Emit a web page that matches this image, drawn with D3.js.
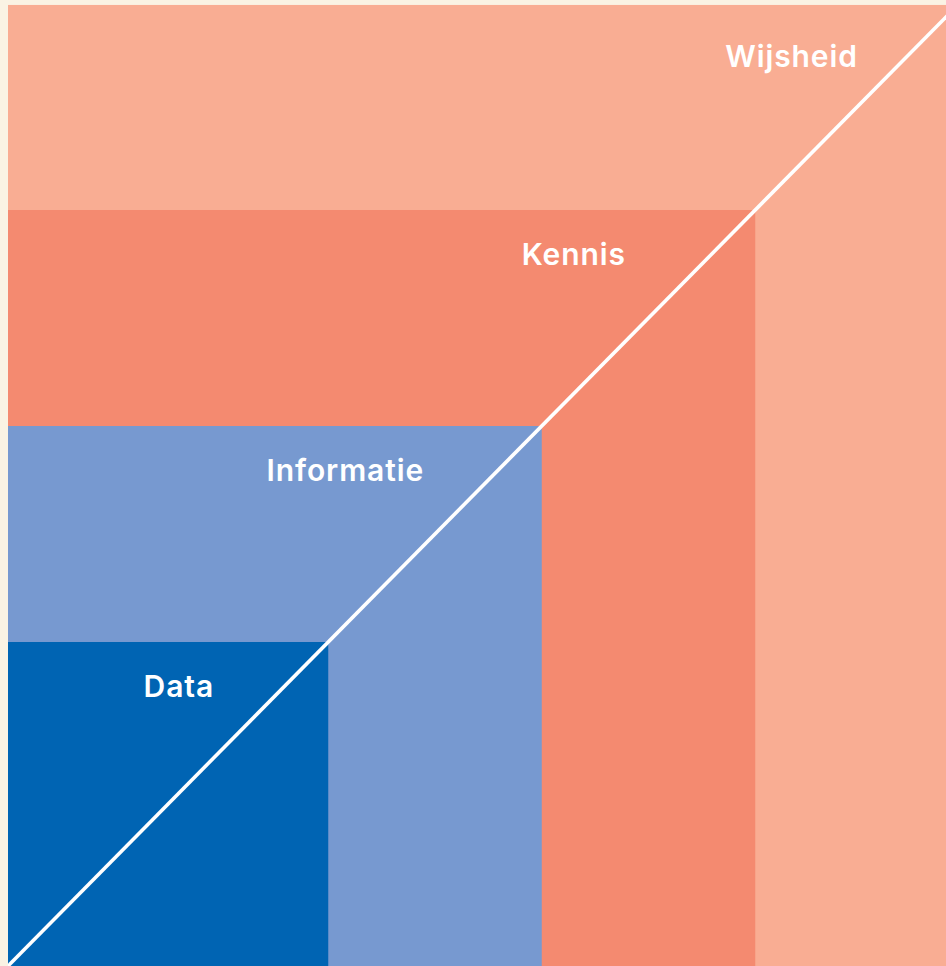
<!DOCTYPE html>
<html>
<head>
<meta charset="utf-8">
<script src="https://cdn.jsdelivr.net/npm/d3@7"></script>
<style>
  html, body { margin: 0; padding: 0; background: #FAF3E4; }
  svg { display: block; }
</style>
</head>
<body>
<svg id="chart" width="946" height="966"></svg>
<script>
// DIKW levels (nested squares, size in abstract units)
const levels = ["Data", "Informatie", "Kennis", "Wijsheid"];
const sizes = [1.5, 2.5, 3.5, 4.45];
const colors = ["#0064B3", "#7799D0", "#F48A70", "#F9AD93"];
// label centre (in size units) along x
const labelCenters = [0.8, 1.58, 2.65, 3.67];

const W = 946, H = 966;
const svg = d3.select("#chart");

const x = d3.scaleLinear().domain([0, 1]).range([8, 8 + 213.5]);
const y = d3.scaleLinear().domain([0, 1]).range([966, 966 - 216]);

svg.append("defs").append("clipPath").attr("id", "clip")
  .append("rect")
  .attr("x", x(0)).attr("y", y(sizes[3]))
  .attr("width", W - x(0)).attr("height", y(0) - y(sizes[3]));

const g = svg.append("g").attr("clip-path", "url(#clip)");

const order = d3.range(levels.length).reverse();
g.selectAll("rect.lvl")
  .data(order)
  .join("rect")
  .attr("class", "lvl")
  .attr("x", x(0))
  .attr("y", i => y(sizes[i]))
  .attr("width", i => x(sizes[i]) - x(0))
  .attr("height", i => y(0) - y(sizes[i]))
  .attr("fill", i => colors[i]);

// diagonal
g.append("line")
  .attr("x1", x(0)).attr("y1", y(0))
  .attr("x2", x(5)).attr("y2", y(5))
  .attr("stroke", "#FFFFFF")
  .attr("stroke-width", 3.6);

// labels
svg.selectAll("text.lbl")
  .data(d3.range(levels.length))
  .join("text")
  .attr("class", "lbl")
  .attr("x", i => x(labelCenters[i]))
  .attr("y", i => y(sizes[i]) + (i === 3 ? 62 : 55))
  .attr("text-anchor", "middle")
  .attr("fill", "#FFFFFF")
  .attr("font-family", "Inter, 'Open Sans', sans-serif")
  .attr("font-weight", 600)
  .attr("font-size", 30)
  .attr("letter-spacing", 0.9)
  .text(i => levels[i]);
</script>
</body>
</html>
